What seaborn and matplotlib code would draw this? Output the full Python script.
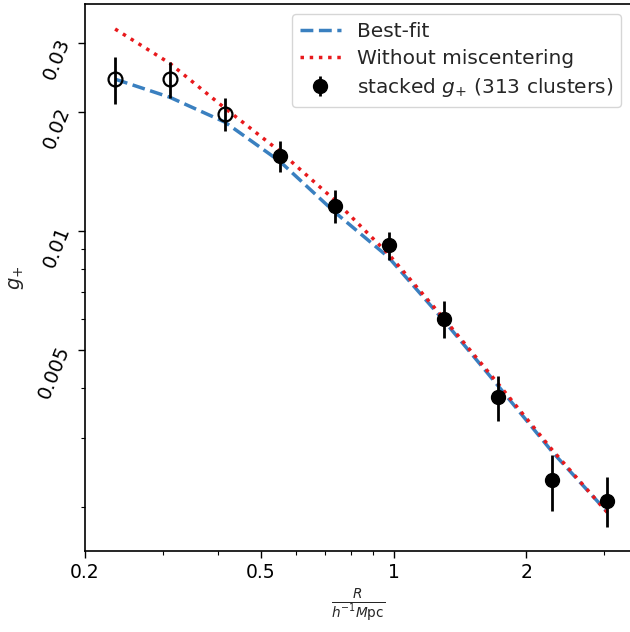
import numpy as np
import pandas as pd
import matplotlib
matplotlib.use("Agg")
import matplotlib.pyplot as plt
from matplotlib.ticker import FixedLocator, FixedFormatter, NullFormatter
import seaborn as sns

# Data
R = [0.234, 0.311, 0.415, 0.552, 0.736, 0.974, 1.298, 1.728, 2.29, 3.05]
g_obs = [0.0243, 0.0243, 0.0198, 0.0155, 0.0116, 0.0092, 0.0060, 0.0038, 0.00234, 0.00208]
g_err = [0.0033, 0.0025, 0.0019, 0.0014, 0.0011, 0.00075, 0.00065, 0.0005, 0.00038, 0.0003]
g_bestfit = [0.02426, 0.02184, 0.01888, 0.01504, 0.01117, 0.00859, 0.00595, 0.00405, 0.00276, 0.001944]
g_nomis = [0.0325, 0.02663, 0.02048, 0.01594, 0.01198, 0.00875, 0.00602, 0.00410, 0.00279, 0.00194]
n_open = 3  # first three points drawn as open circles
x_ticks = [0.2, 0.5, 1, 2]
x_ticklabels = ["0.2", "0.5", "1", "2"]
y_ticks = [0.005, 0.01, 0.02, 0.03]
y_ticklabels = ["0.005", "0.01", "0.02", "0.03"]

sns.set_theme(style="ticks")
plt.rcParams["font.family"] = ["DejaVu Sans"]
plt.rcParams["axes.edgecolor"] = "black"
plt.rcParams["xtick.color"] = "black"
plt.rcParams["ytick.color"] = "black"

fig = plt.figure(figsize=(6.3, 6.32), dpi=100)
ax = fig.add_axes([85 / 630, 1 - 551 / 632, 546 / 630, (551 - 4) / 632])

df_fit = pd.DataFrame({"R": R, "g": g_bestfit})
df_nm = pd.DataFrame({"R": R, "g": g_nomis})
sns.lineplot(data=df_fit, x="R", y="g", ax=ax, color="#3a80c0", lw=2.5,
             linestyle="--", label="Best-fit")
sns.lineplot(data=df_nm, x="R", y="g", ax=ax, color="#e8191c", lw=2.5,
             linestyle=":", label="Without miscentering")

ax.errorbar(R[:n_open], g_obs[:n_open], yerr=g_err[:n_open], fmt="o",
            mfc="none", mec="black", mew=1.6, ms=10, ecolor="black",
            elinewidth=2, capsize=0)
ax.errorbar(R[n_open:], g_obs[n_open:], yerr=g_err[n_open:], fmt="o",
            color="black", ms=10, ecolor="black", elinewidth=2, capsize=0,
            label=r"stacked $g_{+}$ (313 clusters)")

ax.set_xscale("log")
ax.set_yscale("log")
ax.set_xlim(0.2, 3.45)
ax.set_ylim(0.00155, 0.0376)

ax.xaxis.set_major_locator(FixedLocator(x_ticks))
ax.xaxis.set_major_formatter(FixedFormatter(x_ticklabels))
ax.xaxis.set_minor_locator(FixedLocator([0.3, 0.4, 0.6, 0.7, 0.8, 0.9, 3]))
ax.xaxis.set_minor_formatter(NullFormatter())
ax.yaxis.set_major_locator(FixedLocator(y_ticks))
ax.yaxis.set_major_formatter(FixedFormatter(y_ticklabels))
ax.yaxis.set_minor_locator(FixedLocator([0.002, 0.003, 0.004, 0.006, 0.007, 0.008, 0.009]))
ax.yaxis.set_minor_formatter(NullFormatter())
ax.tick_params(axis="x", which="major", labelsize=13.5, length=5, width=1)
ax.tick_params(axis="y", which="major", labelsize=14, length=5, width=1)
ax.tick_params(axis="both", which="minor", length=3, width=0.8)
plt.setp(ax.get_yticklabels(), rotation=68)

ax.set_xlabel(r"$\frac{R}{h^{-1}M\mathrm{pc}}$", fontsize=14)
ax.set_ylabel(r"$g_{+}$", fontsize=14, labelpad=6)

for s in ["top", "bottom", "left", "right"]:
    ax.spines[s].set_visible(True)
    ax.spines[s].set_linewidth(1.2)

ax.legend(loc="upper right", fontsize=14.5, frameon=True, labelspacing=0.4)

fig.savefig("out.png", dpi=100)
